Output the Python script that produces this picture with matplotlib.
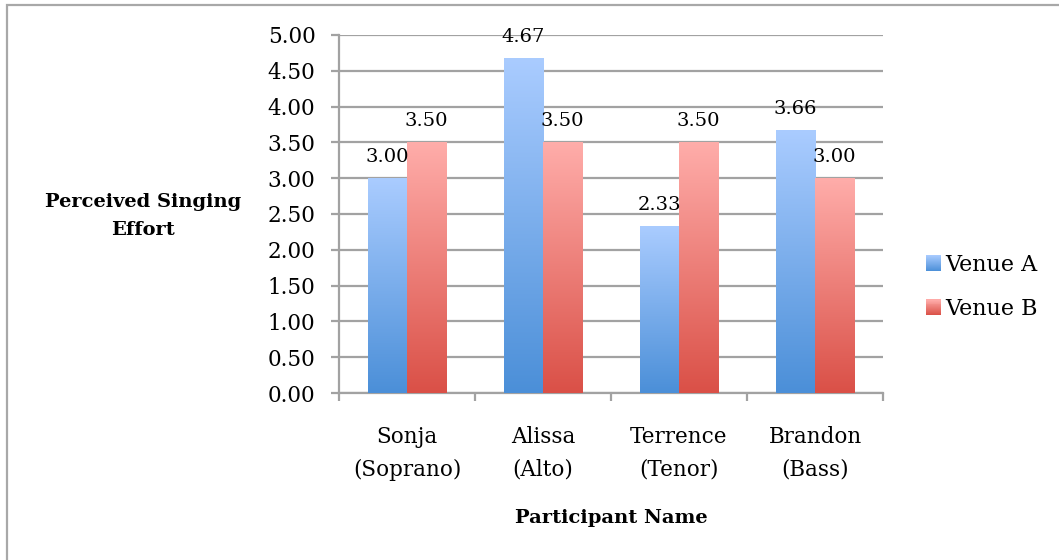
import numpy as np
import matplotlib
matplotlib.use("Agg")
import matplotlib.pyplot as plt
from matplotlib.patches import Rectangle, Patch
from matplotlib.legend_handler import HandlerBase
from matplotlib.colors import LinearSegmentedColormap, to_rgb

# --- data ---
participants = ["Sonja\n(Soprano)", "Alissa\n(Alto)", "Terrence\n(Tenor)", "Brandon\n(Bass)"]
venue_a = [3.00, 4.67, 2.33, 3.66]
venue_b = [3.50, 3.50, 3.50, 3.00]
series_names = ["Venue A", "Venue B"]
y_ticks = [0.0, 0.5, 1.0, 1.5, 2.0, 2.5, 3.0, 3.5, 4.0, 4.5, 5.0]

# gradient endpoints (top, bottom) for each series
grad_a = ("#aaccff", "#4b8fd8")
grad_b = ("#ffadaa", "#da5047")

FONT = "DejaVu Serif"
GRID = "#a2a2a2"

fig = plt.figure(figsize=(10.59, 5.60), dpi=100)
ax = fig.add_axes([339 / 1059, 1 - 393 / 560, 544 / 1059, 358 / 560])

x = np.arange(len(participants))
w = 0.287


def gradient_bars(xpos, vals, colors, label):
    bars = ax.bar(xpos, vals, width=w, color="none", edgecolor="none", label=label, zorder=3)
    cmap = LinearSegmentedColormap.from_list(label, [colors[1], colors[0]])
    grad = np.linspace(0, 1, 256).reshape(-1, 1)
    for b in bars:
        x0, y0 = b.get_x(), b.get_y()
        ax.imshow(grad, cmap=cmap, origin="lower", aspect="auto",
                  extent=[x0, x0 + b.get_width(), y0, y0 + b.get_height()],
                  zorder=3, interpolation="bicubic")
    for b, v in zip(bars, vals):
        ax.annotate(f"{v:.2f}", (b.get_x() + b.get_width() / 2, v),
                    xytext=(0, 9), textcoords="offset points",
                    ha="center", va="bottom", fontsize=14, family=FONT,
                    color="#000000", zorder=6)
    return bars


gradient_bars(x - w / 2, venue_a, grad_a, series_names[0])
gradient_bars(x + w / 2, venue_b, grad_b, series_names[1])

ax.set_xlim(-0.5, len(participants) - 0.5)
ax.set_ylim(0, 5.0)

ax.set_yticks(y_ticks)
ax.set_yticklabels([f"{t:.2f}" for t in y_ticks], family=FONT, fontsize=15.5)
ax.yaxis.grid(True, color=GRID, linewidth=1.6, zorder=0)
ax.set_axisbelow(True)
ax.tick_params(axis="y", length=6, width=1.6, color=GRID, pad=11)

ax.set_xticks(x)
ax.set_xticklabels(participants, family=FONT, fontsize=15.5, linespacing=1.62)
ax.set_xticks(np.arange(len(participants) + 1) - 0.5, minor=True)
ax.tick_params(axis="x", which="major", length=0, pad=24)
ax.tick_params(axis="x", which="minor", length=6, width=1.6, color=GRID)

for s in ["top", "right"]:
    ax.spines[s].set_visible(False)
for s in ["left", "bottom"]:
    ax.spines[s].set_color(GRID)
    ax.spines[s].set_linewidth(1.6)

ax.set_xlabel("Participant Name", family=FONT, fontsize=14, fontweight="bold", labelpad=20)
fig.text(143 / 1059, 1 - 216 / 560, "Perceived Singing\nEffort", family=FONT, fontsize=14,
         fontweight="bold", ha="center", va="center", linespacing=1.75)


class GradientHandler(HandlerBase):
    def create_artists(self, legend, orig_handle, xdescent, ydescent, width, height, fontsize, trans):
        top, bottom = orig_handle.grad
        top, bottom = np.array(to_rgb(top)), np.array(to_rgb(bottom))
        n = 16
        arts = []
        for i in range(n):
            f = (i + 0.5) / n
            c = bottom + (top - bottom) * f
            arts.append(Rectangle((-xdescent, -ydescent + height * i / n), width, height / n + 0.3,
                                  facecolor=c, edgecolor="none", transform=trans))
        return arts


ha = Patch(label=series_names[0]); ha.grad = grad_a
hb = Patch(label=series_names[1]); hb.grad = grad_b
fig.legend(handles=[ha, hb], handler_map={Patch: GradientHandler()},
           loc="center left", bbox_to_anchor=(926 / 1059, 1 - 287 / 560),
           frameon=False, prop={"family": FONT, "size": 16},
           handlelength=0.68, handleheight=0.68, handletextpad=0.2, labelspacing=1.0,
           borderaxespad=0, borderpad=0)

# chart-area border
fig.patches.append(Rectangle((7 / 1059, -0.1), 1.2, 1.1 - 5 / 560, transform=fig.transFigure,
                             facecolor="none", edgecolor="#a8a8a8", linewidth=1.6))

fig.savefig("out.png", dpi=100)
